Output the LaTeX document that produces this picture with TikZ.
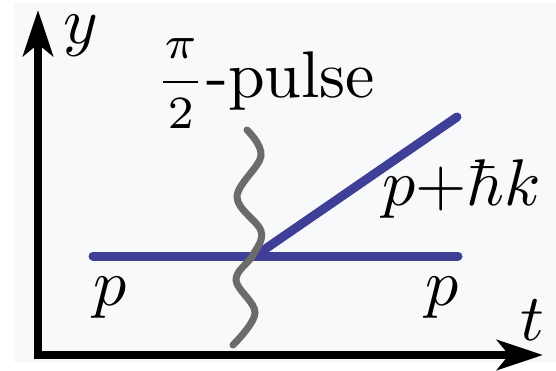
\documentclass[tikz,border=0pt]{standalone}
\usetikzlibrary{arrows.meta}
\definecolor{bgc}{HTML}{F8F9FB}
\definecolor{pathblue}{HTML}{3F3F98}
\definecolor{wavegray}{HTML}{6B6B6B}
\tikzset{
  axisline/.style={line width=8pt, black, line join=miter, {Stealth[length=46pt,width=30pt,inset=12pt]}-{Stealth[length=46pt,width=30pt,inset=12pt]}},
  beam/.style={line width=9pt, pathblue, line cap=round},
  pulsewave/.style={line width=7pt, wavegray, line cap=round},
  lbl/.style={inner sep=0pt, anchor=base west, scale=6.6}
}
\newcommand{\halfpi}{\kern1.2pt\rlap{\raisebox{6.06pt}{\hbox to 5.3pt{\hss$\scriptstyle\pi$\hss}}}\rlap{\raisebox{2.22pt}{\rule{5.3pt}{0.4pt}}}\raisebox{-4.55pt}{\hbox to 5.3pt{\hss$\scriptstyle 2$\hss}}\kern1.2pt}
\begin{document}
\begin{tikzpicture}[x=1pt,y=-1pt]
\useasboundingbox (0,0) rectangle (556,371);
\fill[white] (0,0) rectangle (556,371);
\fill[bgc] (14,3) rectangle (556,363);
% axes
\coordinate (ytip) at (38,10);
\coordinate (orig) at (38,355);
\coordinate (xtip) at (543,355);
\draw[axisline] (ytip) -- (orig) -- (xtip);
% beams
\coordinate (b0) at (93,256);
\coordinate (split) at (255,256);
\coordinate (b1) at (458,256);
\coordinate (b2) at (457,117);
\draw[beam] (b0) -- (b1);
\draw[beam] (split) -- (b2);
% pulse wave
\draw[pulsewave] plot[smooth, tension=0.6] coordinates {(247,130) (261,156) (237,197) (261,231) (253,255) (236,280) (255,313) (233,345)};
% labels
\node[lbl] (ylab) at (62,44) {$y$};
\node[lbl] (tlab) at (519,340) {$t$};
\node[lbl] (pL) at (92,305) {$p$};
\node[lbl] (pR) at (424,305) {$p$};
\node[lbl] (pk) at (381,206) {$p{+}\hbar k$};
\node[lbl] (pulse) at (154,98) {\halfpi-pulse};
\end{tikzpicture}
\end{document}
